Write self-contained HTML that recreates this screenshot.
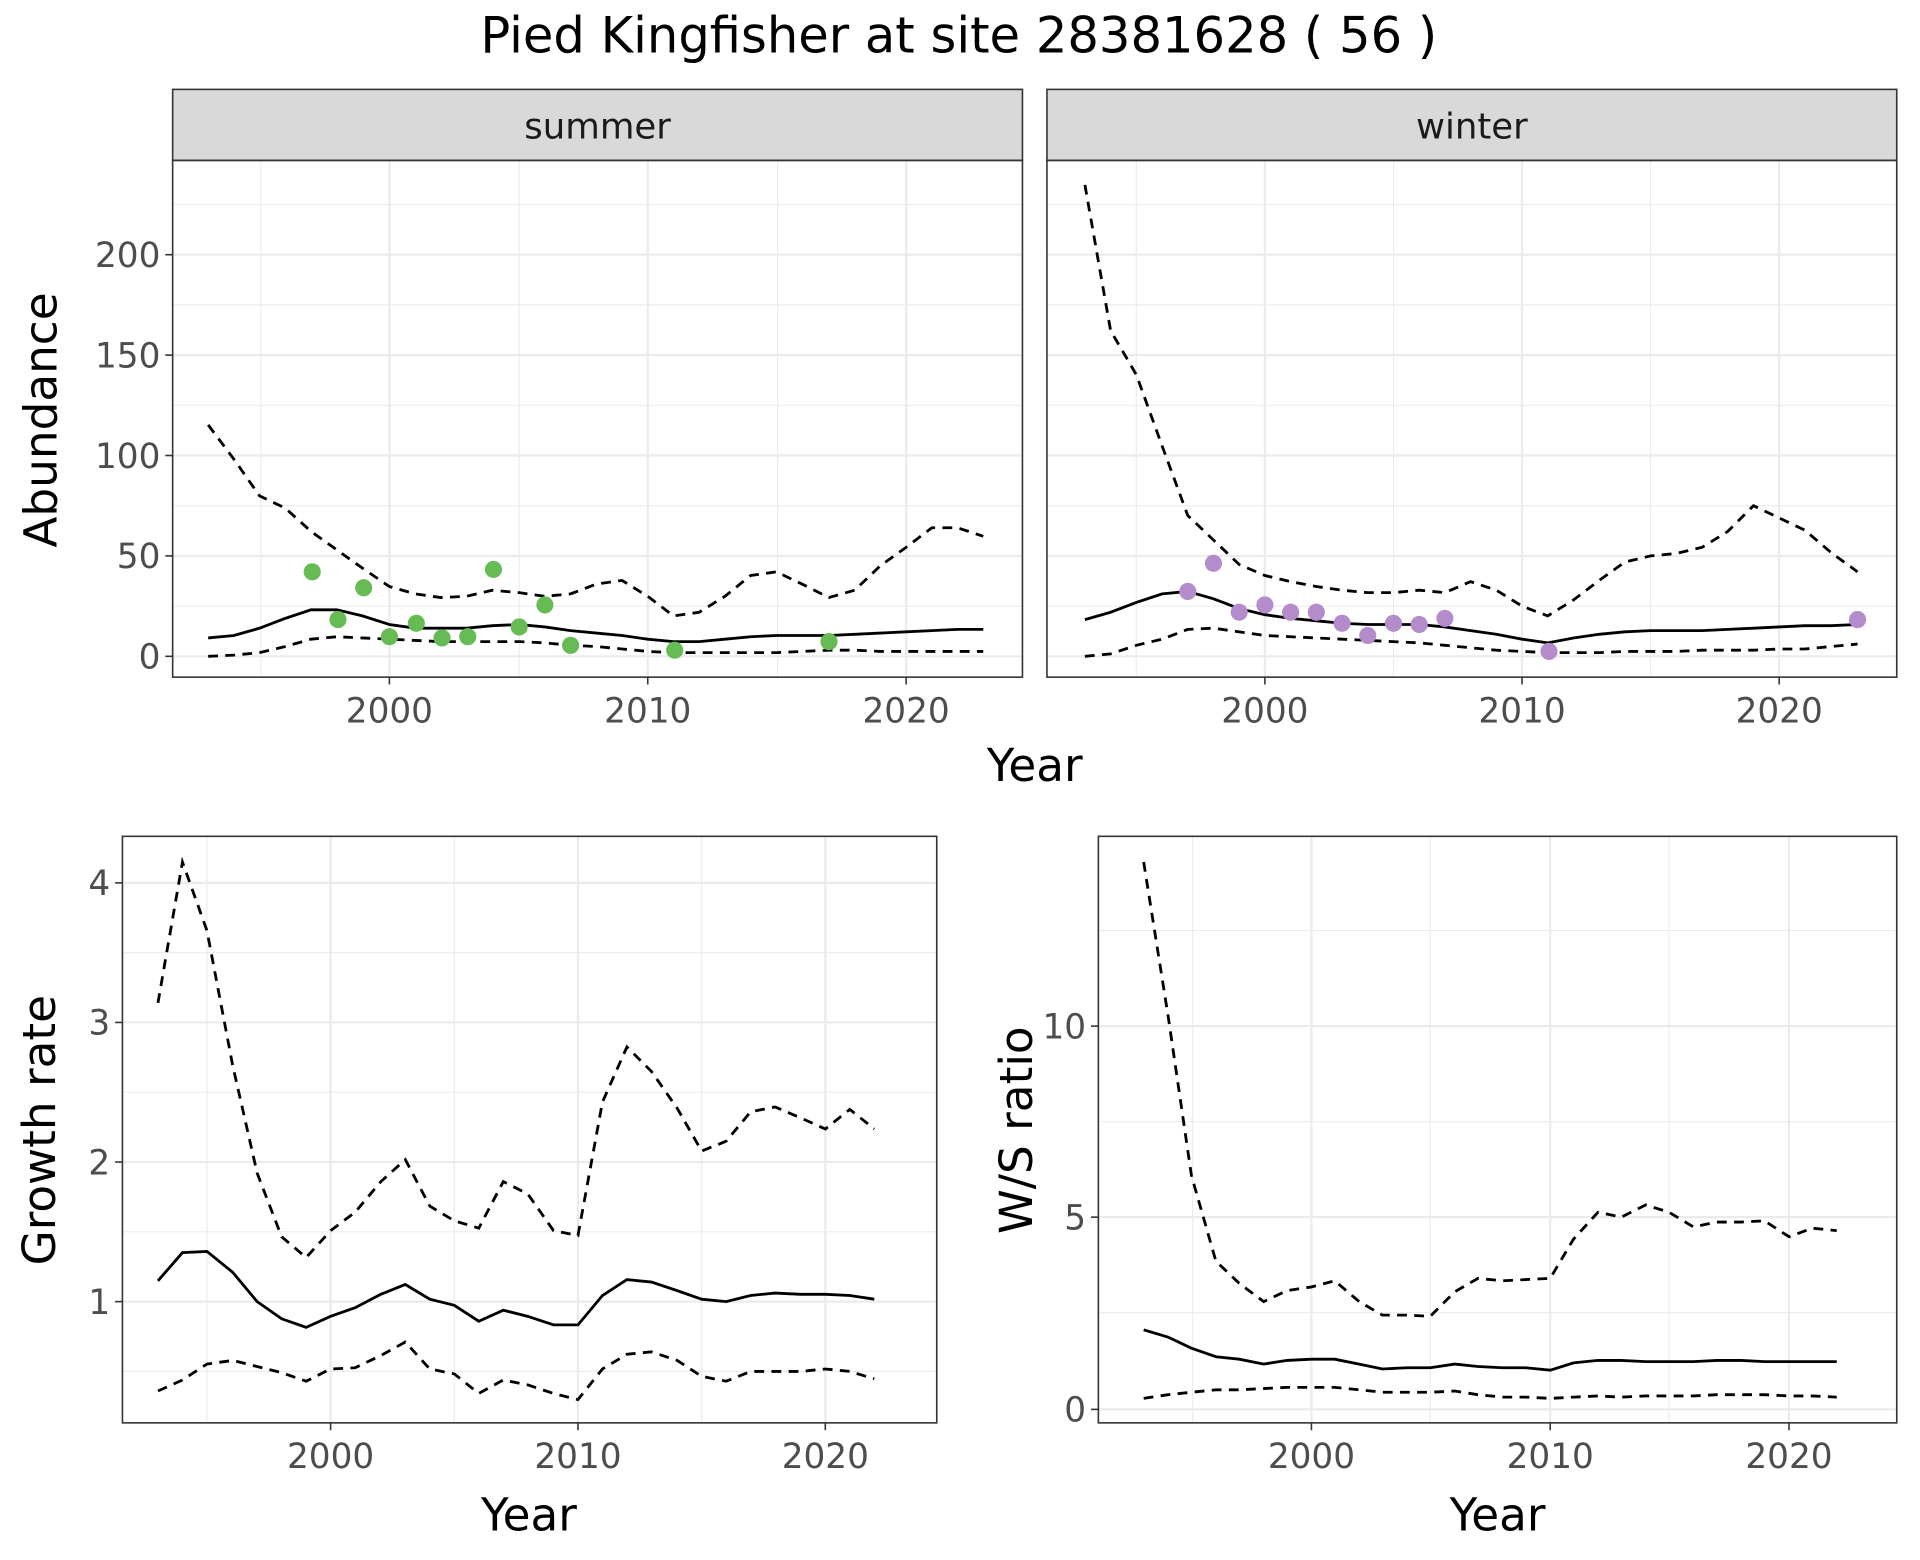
<!DOCTYPE html>
<html><head><meta charset="utf-8"><style>html,body{margin:0;padding:0;background:#fff}svg{display:block}text{font-family:"DejaVu Sans","Liberation Sans",sans-serif}</style></head>
<body>
<svg width="1920" height="1560" viewBox="0 0 1568 1274" preserveAspectRatio="none" xmlns="http://www.w3.org/2000/svg">
<rect width="1568" height="1274" fill="#fff"/>
<text x="783" y="43" font-size="40.5" text-anchor="middle" fill="#000">Pied Kingfisher at site 28381628 ( 56 )</text>

<g stroke="#ebebeb" fill="none">
<g stroke-width="0.9"><line x1="141" x2="835" y1="495" y2="495"/><line x1="141" x2="835" y1="413" y2="413"/><line x1="141" x2="835" y1="331" y2="331"/><line x1="141" x2="835" y1="249" y2="249"/><line x1="141" x2="835" y1="167" y2="167"/>
<line x1="213" x2="213" y1="131" y2="553"/><line x1="424" x2="424" y1="131" y2="553"/><line x1="635" x2="635" y1="131" y2="553"/></g>
<g stroke-width="1.8"><line x1="141" x2="835" y1="536" y2="536"/><line x1="141" x2="835" y1="454" y2="454"/><line x1="141" x2="835" y1="372" y2="372"/><line x1="141" x2="835" y1="290" y2="290"/><line x1="141" x2="835" y1="208" y2="208"/>
<line x1="318" x2="318" y1="131" y2="553"/><line x1="529" x2="529" y1="131" y2="553"/><line x1="740" x2="740" y1="131" y2="553"/></g>
</g>
<g stroke="#ebebeb" fill="none">
<g stroke-width="0.9"><line x1="855" x2="1549" y1="495" y2="495"/><line x1="855" x2="1549" y1="413" y2="413"/><line x1="855" x2="1549" y1="331" y2="331"/><line x1="855" x2="1549" y1="249" y2="249"/><line x1="855" x2="1549" y1="167" y2="167"/>
<line x1="928" x2="928" y1="131" y2="553"/><line x1="1138" x2="1138" y1="131" y2="553"/><line x1="1348" x2="1348" y1="131" y2="553"/></g>
<g stroke-width="1.8"><line x1="855" x2="1549" y1="536" y2="536"/><line x1="855" x2="1549" y1="454" y2="454"/><line x1="855" x2="1549" y1="372" y2="372"/><line x1="855" x2="1549" y1="290" y2="290"/><line x1="855" x2="1549" y1="208" y2="208"/>
<line x1="1033" x2="1033" y1="131" y2="553"/><line x1="1243" x2="1243" y1="131" y2="553"/><line x1="1453" x2="1453" y1="131" y2="553"/></g>
</g>
<rect x="141" y="73" width="694" height="58" fill="#d9d9d9" stroke="#333" stroke-width="1.3"/>
<rect x="855" y="73" width="694" height="58" fill="#d9d9d9" stroke="#333" stroke-width="1.3"/>
<text x="488" y="113" font-size="29" text-anchor="middle" fill="#1a1a1a">summer</text>
<text x="1202" y="113" font-size="29" text-anchor="middle" fill="#1a1a1a">winter</text>

<g fill="none" stroke="#000" stroke-width="2.3">
<polyline points="170,521 191,519 212,513 233,505 254,498 275,498 296,503 318,510 339,513 360,513 381,513 402,511 424,510 445,512 466,515 487,517 508,519 529,522 550,524 571,524 592,522 613,520 634,519 655,519 677,519 698,518 719,517 740,516 761,515 782,514 803,514"/>
<g stroke-dasharray="8,6">
<polyline points="170,347 191,375 212,405 233,415 254,434 275,449 296,464 318,479 339,485 360,488 381,487 402,482 424,484 445,487 466,485 487,477 508,474 529,487 550,503 571,500 592,487 613,470 634,467 655,477 677,488 698,482 719,462 740,447 761,431 782,431 803,438"/>
<polyline points="170,536 191,535 212,533 233,528 254,522 275,520 296,521 318,522 339,523 360,524 381,524 402,524 424,524 445,525 466,527 487,528 508,530 529,532 550,533 571,533 592,533 613,533 634,533 655,532 677,531 698,531 719,532 740,532 761,532 782,532 803,532"/>
</g>
<polyline points="886,506 907,500 928,492 949,485 970,483 991,489 1012,497 1033,502 1054,505 1075,507 1096,509 1117,510 1138,510 1159,510 1180,512 1201,515 1222,518 1243,522 1264,525 1285,521 1306,518 1327,516 1348,515 1369,515 1390,515 1411,514 1432,513 1453,512 1474,511 1495,511 1517,510"/>
<g stroke-dasharray="8,6">
<polyline points="886,151 907,270 928,306 949,364 970,421 991,441 1012,461 1033,470 1054,475 1075,479 1096,482 1117,484 1138,484 1159,482 1180,484 1201,475 1222,482 1243,495 1264,503 1285,490 1306,474 1327,459 1348,454 1369,452 1390,447 1411,434 1432,413 1453,423 1474,433 1495,451 1517,467"/>
<polyline points="886,536 907,534 928,527 949,522 970,514 991,513 1012,516 1033,519 1054,520 1075,521 1096,522 1117,523 1138,524 1159,525 1180,527 1201,529 1222,531 1243,532 1264,533 1285,533 1306,533 1327,532 1348,532 1369,532 1390,531 1411,531 1432,531 1453,530 1474,530 1495,528 1517,526"/>
</g>
</g>
<g fill="#66bb55">
<circle cx="255" cy="467" r="7"/><circle cx="276" cy="506" r="7"/><circle cx="297" cy="480" r="7"/><circle cx="318" cy="520" r="7"/><circle cx="340" cy="509" r="7"/><circle cx="361" cy="521" r="7"/><circle cx="382" cy="520" r="7"/><circle cx="403" cy="465" r="7"/><circle cx="424" cy="512" r="7"/><circle cx="445" cy="494" r="7"/><circle cx="466" cy="527" r="7"/><circle cx="551" cy="531" r="7"/><circle cx="677" cy="524" r="7"/>
</g>
<g fill="#b48ccb">
<circle cx="970" cy="483" r="7"/><circle cx="991" cy="460" r="7"/><circle cx="1012" cy="500" r="7"/><circle cx="1033" cy="494" r="7"/><circle cx="1054" cy="500" r="7"/><circle cx="1075" cy="500" r="7"/><circle cx="1096" cy="509" r="7"/><circle cx="1117" cy="519" r="7"/><circle cx="1138" cy="509" r="7"/><circle cx="1159" cy="510" r="7"/><circle cx="1180" cy="505" r="7"/><circle cx="1265" cy="532" r="7"/><circle cx="1517" cy="506" r="7"/>
</g>
<rect x="141" y="131" width="694" height="422" fill="none" stroke="#333" stroke-width="1.3"/>
<rect x="855" y="131" width="694" height="422" fill="none" stroke="#333" stroke-width="1.3"/>
<g stroke="#333" stroke-width="1.3">
<line x1="135" x2="141" y1="536" y2="536"/><line x1="135" x2="141" y1="454" y2="454"/><line x1="135" x2="141" y1="372" y2="372"/><line x1="135" x2="141" y1="290" y2="290"/><line x1="135" x2="141" y1="208" y2="208"/>
<line x1="318" x2="318" y1="553" y2="559"/><line x1="529" x2="529" y1="553" y2="559"/><line x1="740" x2="740" y1="553" y2="559"/>
<line x1="1033" x2="1033" y1="553" y2="559"/><line x1="1243" x2="1243" y1="553" y2="559"/><line x1="1453" x2="1453" y1="553" y2="559"/>
</g>
<g font-size="28" fill="#4d4d4d" text-anchor="end">
<text x="131" y="546">0</text><text x="131" y="464">50</text><text x="131" y="382">100</text><text x="131" y="300">150</text><text x="131" y="218">200</text>
</g>
<g font-size="28" fill="#4d4d4d" text-anchor="middle">
<text x="318" y="590">2000</text><text x="529" y="590">2010</text><text x="740" y="590">2020</text>
<text x="1033" y="590">2000</text><text x="1243" y="590">2010</text><text x="1453" y="590">2020</text>
</g>
<text x="845" y="638" font-size="37" text-anchor="middle">Year</text>
<text transform="translate(46,343) rotate(-90)" font-size="37" text-anchor="middle">Abundance</text>

<g stroke="#ebebeb" fill="none">
<g stroke-width="0.9"><line x1="100" x2="765" y1="1120" y2="1120"/><line x1="100" x2="765" y1="1006" y2="1006"/><line x1="100" x2="765" y1="892" y2="892"/><line x1="100" x2="765" y1="778" y2="778"/>
<line x1="169" x2="169" y1="683" y2="1162"/><line x1="371" x2="371" y1="683" y2="1162"/><line x1="573" x2="573" y1="683" y2="1162"/></g>
<g stroke-width="1.8"><line x1="100" x2="765" y1="1063" y2="1063"/><line x1="100" x2="765" y1="949" y2="949"/><line x1="100" x2="765" y1="835" y2="835"/><line x1="100" x2="765" y1="721" y2="721"/>
<line x1="270" x2="270" y1="683" y2="1162"/><line x1="472" x2="472" y1="683" y2="1162"/><line x1="674" x2="674" y1="683" y2="1162"/></g>
</g>
<g fill="none" stroke="#000" stroke-width="2.3">
<polyline points="129,1046 149,1023 169,1022 190,1039 210,1063 230,1077 250,1084 270,1075 290,1068 311,1057 331,1049 351,1061 371,1066 391,1079 411,1070 431,1075 452,1082 472,1082 492,1058 512,1045 532,1047 553,1054 573,1061 593,1063 613,1058 633,1056 654,1057 674,1057 694,1058 714,1061"/>
<g stroke-dasharray="8,6">
<polyline points="129,819 149,704 169,760 190,870 210,958 230,1010 250,1027 270,1005 290,990 311,965 331,947 351,985 371,997 391,1003 411,965 431,975 452,1005 472,1009 492,900 512,855 532,875 553,905 573,940 593,932 613,908 633,904 654,913 674,922 694,906 714,922"/>
<polyline points="129,1136 149,1127 169,1114 190,1111 210,1116 230,1121 250,1128 270,1118 290,1117 311,1107 331,1096 351,1118 371,1122 391,1138 411,1127 431,1131 452,1138 472,1143 492,1118 512,1106 532,1104 553,1111 573,1124 593,1128 613,1120 633,1120 654,1120 674,1118 694,1120 714,1126"/>
</g>
</g>
<rect x="100" y="683" width="665" height="479" fill="none" stroke="#333" stroke-width="1.3"/>
<g stroke="#333" stroke-width="1.3">
<line x1="94" x2="100" y1="1063" y2="1063"/><line x1="94" x2="100" y1="949" y2="949"/><line x1="94" x2="100" y1="835" y2="835"/><line x1="94" x2="100" y1="721" y2="721"/>
<line x1="270" x2="270" y1="1162" y2="1168"/><line x1="472" x2="472" y1="1162" y2="1168"/><line x1="674" x2="674" y1="1162" y2="1168"/>
</g>
<g font-size="28" fill="#4d4d4d" text-anchor="end">
<text x="90" y="1073">1</text><text x="90" y="959">2</text><text x="90" y="845">3</text><text x="90" y="731">4</text>
</g>
<g font-size="28" fill="#4d4d4d" text-anchor="middle">
<text x="270" y="1199">2000</text><text x="472" y="1199">2010</text><text x="674" y="1199">2020</text>
</g>
<text x="432" y="1250" font-size="37" text-anchor="middle">Year</text>
<text transform="translate(45,923) rotate(-90)" font-size="37" text-anchor="middle">Growth rate</text>

<g stroke="#ebebeb" fill="none">
<g stroke-width="0.9"><line x1="897" x2="1549" y1="1072" y2="1072"/><line x1="897" x2="1549" y1="916" y2="916"/><line x1="897" x2="1549" y1="760" y2="760"/>
<line x1="974" x2="974" y1="683" y2="1162"/><line x1="1168" x2="1168" y1="683" y2="1162"/><line x1="1363" x2="1363" y1="683" y2="1162"/></g>
<g stroke-width="1.8"><line x1="897" x2="1549" y1="1151" y2="1151"/><line x1="897" x2="1549" y1="994" y2="994"/><line x1="897" x2="1549" y1="838" y2="838"/>
<line x1="1071" x2="1071" y1="683" y2="1162"/><line x1="1266" x2="1266" y1="683" y2="1162"/><line x1="1461" x2="1461" y1="683" y2="1162"/></g>
</g>
<g fill="none" stroke="#000" stroke-width="2.3">
<polyline points="934,1086 954,1092 973,1101 993,1108 1012,1110 1032,1114 1051,1111 1071,1110 1090,1110 1110,1114 1129,1118 1149,1117 1168,1117 1188,1114 1207,1116 1227,1117 1246,1117 1266,1119 1285,1113 1305,1111 1324,1111 1344,1112 1363,1112 1383,1112 1402,1111 1422,1111 1441,1112 1461,1112 1480,1112 1500,1112"/>
<g stroke-dasharray="8,6">
<polyline points="934,704 954,830 973,960 993,1030 1012,1048 1032,1063 1051,1054 1071,1051 1090,1046 1110,1063 1129,1074 1149,1074 1168,1075 1188,1055 1207,1044 1227,1046 1246,1045 1266,1044 1285,1012 1305,990 1324,994 1344,984 1363,990 1383,1002 1402,998 1422,998 1441,997 1461,1010 1480,1003 1500,1005"/>
<polyline points="934,1142 954,1139 973,1137 993,1135 1012,1135 1032,1134 1051,1133 1071,1133 1090,1133 1110,1135 1129,1137 1149,1137 1168,1137 1188,1136 1207,1139 1227,1141 1246,1141 1266,1142 1285,1141 1305,1140 1324,1141 1344,1140 1363,1140 1383,1140 1402,1139 1422,1139 1441,1139 1461,1140 1480,1140 1500,1141"/>
</g>
</g>
<rect x="897" y="683" width="652" height="479" fill="none" stroke="#333" stroke-width="1.3"/>
<g stroke="#333" stroke-width="1.3">
<line x1="891" x2="897" y1="1151" y2="1151"/><line x1="891" x2="897" y1="994" y2="994"/><line x1="891" x2="897" y1="838" y2="838"/>
<line x1="1071" x2="1071" y1="1162" y2="1168"/><line x1="1266" x2="1266" y1="1162" y2="1168"/><line x1="1461" x2="1461" y1="1162" y2="1168"/>
</g>
<g font-size="28" fill="#4d4d4d" text-anchor="end">
<text x="887" y="1161">0</text><text x="887" y="1004">5</text><text x="887" y="848">10</text>
</g>
<g font-size="28" fill="#4d4d4d" text-anchor="middle">
<text x="1071" y="1199">2000</text><text x="1266" y="1199">2010</text><text x="1461" y="1199">2020</text>
</g>
<text x="1223" y="1250" font-size="37" text-anchor="middle">Year</text>
<text transform="translate(843,923) rotate(-90)" font-size="37" text-anchor="middle">W/S ratio</text>
</svg>
</body></html>
